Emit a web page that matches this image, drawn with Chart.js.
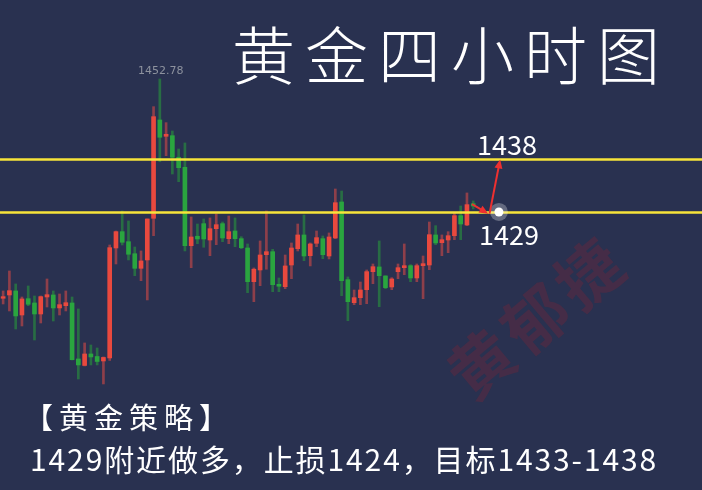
<!DOCTYPE html>
<html>
<head>
<meta charset="utf-8">
<script src="https://cdn.jsdelivr.net/npm/chart.js@4.4.0/dist/chart.umd.min.js"></script>
<style>
    html, body { margin: 0; padding: 0; background: #293150; }
    #wrap { position: relative; width: 702px; height: 490px; overflow: hidden; background: #293150; }
    #wrap canvas { position: absolute; left: 0; top: 0; }
    .txt { position: absolute; color: #fff; font-family: "Noto Sans CJK SC", sans-serif; white-space: nowrap; line-height: 1; }
    #title { left: 232px; top: 20px; font-size: 63px; letter-spacing: 10px; font-weight: 300; }
    #maxLabel { left: 138px; top: 65px; font-size: 11px; color: #8d929e; font-family: "DejaVu Sans", sans-serif; }
    #lbl1438 { left: 477px; top: 130px; font-size: 27px; }
    #lbl1429 { left: 479px; top: 220px; font-size: 27px; }
    #strategyHead { left: 24px; top: 402px; font-size: 29px; letter-spacing: 6px; }
    #strategy { left: 30px; top: 443px; font-size: 30px; letter-spacing: 1.9px; }
    #stamp { left: 434px; top: 357px; font-size: 64px; color: rgba(105, 40, 60, 0.45); font-family: "Noto Sans CJK SC", serif; font-weight: 700;
             transform: rotate(-40deg); transform-origin: left top; letter-spacing: 6px; }
</style>
</head>
<body>
<div id="wrap">
    <div id="stamp" class="txt">黄郁捷</div>
    <canvas id="kChart" width="702" height="490"></canvas>
    <div id="title" class="txt">黄金四小时图</div>
    <div id="maxLabel" class="txt">1452.78</div>
    <div id="lbl1438" class="txt">1438</div>
    <div id="lbl1429" class="txt">1429</div>
    <div id="strategyHead" class="txt">【黄金策略】</div>
    <div id="strategy" class="txt">1429附近做多，止损1424，目标1433-1438</div>
</div>
<script>
// 4h candles
const opens = [1413.57, 1414.16, 1414.88, 1410.58, 1413.50, 1412.73, 1410.76, 1413.80, 1414.16, 1411.84,
    1412.25, 1412.73, 1402.72, 1401.56, 1403.61, 1403.16, 1402.36, 1402.90, 1422.56, 1425.48,
    1423.69, 1421.54, 1418.93, 1420.42, 1427.87, 1445.45, 1442.53, 1442.64, 1438.78, 1436.99,
    1422.97, 1424.66, 1426.91, 1423.99, 1426.01, 1426.91, 1424.23, 1425.60, 1424.23, 1422.56,
    1416.54, 1418.63, 1421.37, 1421.90, 1416.07, 1415.64, 1419.52, 1422.44, 1424.89, 1421.19,
    1423.40, 1424.23, 1421.13, 1424.35, 1430.79, 1416.90, 1412.78, 1413.68, 1415.11, 1418.33,
    1419.17, 1417.56, 1415.59, 1418.33, 1419.04, 1419.40, 1417.20, 1419.40, 1419.52, 1424.89,
    1423.51, 1423.99, 1424.76, 1428.34, 1426.68, 1430.48];
const closes = [1413.86, 1414.93, 1410.41, 1413.45, 1412.50, 1410.76, 1413.86, 1414.21, 1411.84, 1412.43,
    1412.78, 1402.59, 1401.65, 1403.61, 1403.08, 1402.27, 1402.99, 1422.62, 1425.48, 1423.58,
    1421.44, 1418.93, 1420.24, 1427.75, 1446.04, 1442.36, 1442.89, 1438.78, 1436.92, 1422.97,
    1424.53, 1424.17, 1424.17, 1426.01, 1426.73, 1424.35, 1425.48, 1424.23, 1422.62, 1416.54,
    1418.76, 1421.31, 1421.90, 1416.00, 1415.72, 1419.35, 1422.56, 1424.89, 1421.13, 1423.28,
    1424.41, 1421.37, 1424.53, 1430.66, 1416.72, 1412.96, 1413.68, 1415.05, 1418.33, 1419.22,
    1417.61, 1415.47, 1417.02, 1419.04, 1419.40, 1417.20, 1419.40, 1419.76, 1424.94, 1423.46,
    1424.05, 1424.76, 1428.34, 1426.85, 1430.31, 1430.07];
const highs = [1414.88, 1418.45, 1416.13, 1413.80, 1415.77, 1413.98, 1413.98, 1417.02, 1414.88, 1414.34,
    1414.88, 1413.80, 1411.66, 1405.58, 1405.22, 1404.68, 1403.08, 1423.10, 1425.60, 1429.18,
    1427.39, 1422.74, 1422.03, 1427.75, 1447.83, 1452.78, 1444.97, 1443.48, 1440.26, 1441.34,
    1428.11, 1426.85, 1427.75, 1427.93, 1428.64, 1427.21, 1428.28, 1427.93, 1424.58, 1423.28,
    1418.99, 1423.82, 1429.18, 1422.33, 1417.20, 1421.31, 1423.46, 1426.85, 1428.46, 1423.46,
    1425.60, 1424.71, 1425.25, 1433.11, 1432.75, 1417.38, 1415.05, 1416.48, 1418.63, 1419.70,
    1423.82, 1417.61, 1417.25, 1419.70, 1423.28, 1419.58, 1419.70, 1421.13, 1427.21, 1426.55,
    1424.89, 1425.48, 1428.87, 1430.07, 1432.40, 1430.97];
const lows = [1412.55, 1411.30, 1408.08, 1408.62, 1412.25, 1406.11, 1409.15, 1412.01, 1409.51, 1410.58,
    1411.30, 1402.54, 1399.14, 1401.47, 1401.65, 1401.65, 1398.25, 1402.45, 1419.70, 1423.10,
    1420.42, 1417.61, 1416.72, 1413.27, 1424.76, 1437.99, 1439.07, 1435.79, 1434.42, 1422.03,
    1419.04, 1423.33, 1422.69, 1421.19, 1423.15, 1423.69, 1423.33, 1422.80, 1422.44, 1414.57,
    1412.96, 1415.82, 1418.76, 1414.75, 1414.75, 1415.29, 1417.07, 1422.03, 1420.29, 1419.35,
    1422.80, 1420.65, 1420.60, 1424.23, 1414.04, 1409.57, 1412.43, 1412.43, 1412.60, 1416.18,
    1412.07, 1415.29, 1415.11, 1417.07, 1417.79, 1416.54, 1416.54, 1413.50, 1418.68, 1423.15,
    1421.19, 1421.72, 1424.05, 1424.05, 1426.55, 1429.54];

// the candles fill only the left part of the window, empty slots go to the right
const slotCount = 112;
const labels = Array.from({ length: slotCount }, (_, i) => 'K' + (i + 1));

// support / target levels drawn in yellow
const levels = [1438.5, 1429];

// arrows: [fromIndex, fromPrice, toIndex, toPrice]
const arrows = [
    [74.8, 1430.4, 77.4, 1428.7],
    [77.6, 1428.7, 79.3, 1438.4]
];
const dotAt = [79.1, 1429];

const upBody = '#e9493e';
const upWick = 'rgba(196, 70, 70, 0.65)';
const downBody = '#2aa53f';
const downWick = 'rgba(40, 150, 60, 0.6)';

const isUp = opens.map((o, i) => closes[i] >= o);

function idxToPx(scale, v) {
    // fractional category index -> pixel
    const a = scale.getPixelForValue(Math.floor(v));
    const b = scale.getPixelForValue(Math.floor(v) + 1);
    return a + (b - a) * (v - Math.floor(v));
}

const levelLines = {
    id: 'levelLines',
    afterDatasetsDraw(chart) {
        const { ctx, chartArea, scales } = chart;
        ctx.save();
        ctx.strokeStyle = '#f7e43a';
        ctx.lineWidth = 2.5;
        levels.forEach(lv => {
            const y = Math.round(scales.y.getPixelForValue(lv)) + 0.5;
            ctx.beginPath();
            ctx.moveTo(chartArea.left, y);
            ctx.lineTo(chartArea.right, y);
            ctx.stroke();
        });
        ctx.restore();
    }
};

const arrowMarks = {
    id: 'arrowMarks',
    afterDraw(chart) {
        const { ctx, scales } = chart;
        ctx.save();
        // glowing dot
        const dx = idxToPx(scales.x, dotAt[0]);
        const dy = scales.y.getPixelForValue(dotAt[1]);
        ctx.fillStyle = 'rgba(255,255,255,0.28)';
        ctx.beginPath();
        ctx.arc(dx, dy, 9, 0, Math.PI * 2);
        ctx.fill();
        ctx.fillStyle = '#ffffff';
        ctx.beginPath();
        ctx.arc(dx, dy, 4.5, 0, Math.PI * 2);
        ctx.fill();

        ctx.strokeStyle = '#ee3030';
        ctx.fillStyle = '#ee3030';
        ctx.lineWidth = 2;
        arrows.forEach(a => {
            const x1 = idxToPx(scales.x, a[0]), y1 = scales.y.getPixelForValue(a[1]);
            const x2 = idxToPx(scales.x, a[2]), y2 = scales.y.getPixelForValue(a[3]);
            const ang = Math.atan2(y2 - y1, x2 - x1);
            ctx.beginPath();
            ctx.moveTo(x1, y1);
            ctx.lineTo(x2 - 6 * Math.cos(ang), y2 - 6 * Math.sin(ang));
            ctx.stroke();
            ctx.beginPath();
            ctx.moveTo(x2, y2);
            ctx.lineTo(x2 - 9 * Math.cos(ang) + 4 * Math.sin(ang), y2 - 9 * Math.sin(ang) - 4 * Math.cos(ang));
            ctx.lineTo(x2 - 9 * Math.cos(ang) - 4 * Math.sin(ang), y2 - 9 * Math.sin(ang) + 4 * Math.cos(ang));
            ctx.closePath();
            ctx.fill();
        });
        ctx.restore();
    }
};

document.addEventListener('DOMContentLoaded', function() {
    const ctx = document.getElementById('kChart').getContext('2d');

    new Chart(ctx, {
        type: 'bar',
        data: {
            labels: labels,
            datasets: [{
                label: 'body',
                data: opens.map((o, i) => [o, closes[i]]),
                backgroundColor: isUp.map(u => u ? upBody : downBody),
                barThickness: 4,
                minBarLength: 1.5,
                grouped: false,
                order: 0
            }, {
                label: 'wick',
                data: lows.map((l, i) => [l, highs[i]]),
                backgroundColor: isUp.map(u => u ? upWick : downWick),
                barThickness: 2,
                grouped: false,
                order: 1
            }]
        },
        options: {
            responsive: false,
            animation: false,
            devicePixelRatio: 1,
            layout: { padding: 0 },
            plugins: {
                legend: { display: false },
                tooltip: { enabled: false }
            },
            scales: {
                x: { display: false, offset: true },
                y: { display: false, min: 1379.29, max: 1466.90 }
            }
        },
        plugins: [levelLines, arrowMarks]
    });
});
</script>
</body>
</html>
